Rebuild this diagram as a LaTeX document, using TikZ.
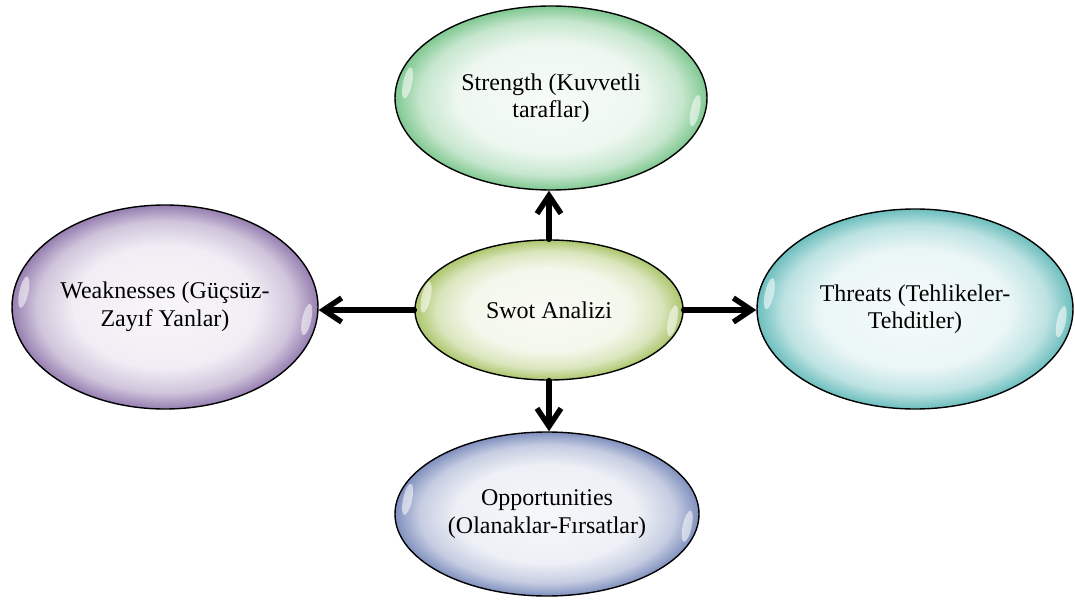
\documentclass[tikz,border=0pt]{standalone}
\usepackage{fontspec}
\setmainfont{Liberation Serif}
\usetikzlibrary{positioning,shapes.geometric,arrows.meta,calc}

\definecolor{strcol}{RGB}{128,200,145}
\definecolor{swotcol}{RGB}{172,198,108}
\definecolor{weakcol}{RGB}{150,126,176}
\definecolor{thrcol}{RGB}{108,190,190}
\definecolor{oppcol}{RGB}{128,144,190}

% glossy fill: light middle, colour at the rim (25bp = rim)
\newcommand{\glossyshade}[2]{%
	\pgfdeclareradialshading{#1}{\pgfpoint{0bp}{0bp}}{%
		color(0bp)=(white!93!#2); color(15bp)=(white!86!#2);
		color(21bp)=(white!55!#2); color(25bp)=(#2); color(50bp)=(#2)}}
\glossyshade{strshade}{strcol}
\glossyshade{swotshade}{swotcol}
\glossyshade{weakshade}{weakcol}
\glossyshade{thrshade}{thrcol}
\glossyshade{oppshade}{oppcol}

\begin{document}
\begin{tikzpicture}[
	x=1pt, y=-1pt,
	every node/.style={color=black, font=\fontsize{24}{27.5}\selectfont},
	swot box/.style={ellipse, draw=black, line width=1.4pt, inner sep=0pt,
		inner xsep=-12pt, align=center},
	pile/.style={line width=5.5pt, line cap=round,
		-{Straight Barb[length=18pt,width=24pt]}},
	glint/.style={white, opacity=0.55}
	]
	\useasboundingbox (0,0) rectangle (1075,604);
	% ellipses
	\node[swot box, shading=swotshade, minimum width=268pt, minimum height=140pt]
	(swot) at (549,310) {Swot Analizi};
	\node[swot box, shading=strshade, minimum width=312pt, minimum height=184pt]
	(strength) at (551,98) {Strength (Kuvvetli\\taraflar)};
	\node[swot box, shading=weakshade, minimum width=306pt, minimum height=204pt]
	(weak) at (165,307) {Weaknesses (Güçsüz-\\Zayıf Yanlar)};
	\node[swot box, shading=thrshade, minimum width=316pt, minimum height=200pt]
	(threat) at (915,309) {Threats (Tehlikeler-\\Tehditler)};
	\node[swot box, shading=oppshade, minimum width=304pt, minimum height=164pt]
	(opp) at (547,514) {Opportunities\\(Olanaklar-Fırsatlar)};
	% highlights
	\foreach \n in {strength,weak,swot,threat,opp} {
		\fill[glint, shift={($(\n.174)!0.07!(\n.center)$)}, rotate=-12]
		(0,0) ellipse [x radius=4.5pt, y radius=16pt];
		\fill[glint, shift={($(\n.-5)!0.07!(\n.center)$)}, rotate=-12]
		(0,0) ellipse [x radius=4.5pt, y radius=16pt];
	}
	% arrows
	\draw[pile] (swot.north) -- (swot.north |- strength.south);
	\draw[pile] (swot.south) -- (swot.south |- opp.north);
	\draw[pile] (swot.west) -- (swot.west -| weak.east);
	\draw[pile] (swot.east) -- (swot.east -| threat.west);
\end{tikzpicture}
\end{document}
